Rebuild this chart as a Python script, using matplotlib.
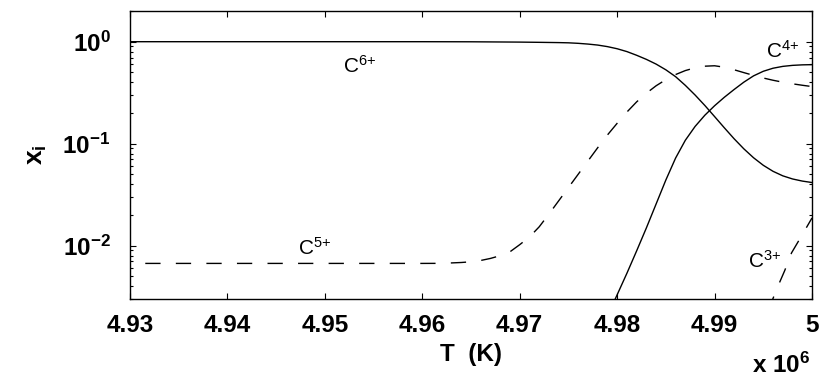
import matplotlib
matplotlib.use("Agg")
import matplotlib.pyplot as plt
from matplotlib.ticker import FixedLocator, LogLocator, NullFormatter

plt.rcParams['font.family'] = ['Liberation Sans', 'DejaVu Sans']
plt.rcParams['mathtext.fontset'] = 'custom'
plt.rcParams['mathtext.rm'] = 'Liberation Sans'
plt.rcParams['mathtext.it'] = 'Liberation Sans:italic'
plt.rcParams['mathtext.bf'] = 'Liberation Sans:bold'

# ---------------- data (T in K, ion fractions) ----------------
T_c6 = [4.930e6, 4.940e6, 4.950e6, 4.960e6, 4.965e6, 4.970e6, 4.972e6, 4.974e6,
        4.975e6, 4.976e6, 4.977e6, 4.978e6, 4.979e6, 4.980e6, 4.981e6, 4.982e6,
        4.983e6, 4.984e6, 4.985e6, 4.986e6, 4.987e6, 4.988e6, 4.989e6, 4.990e6,
        4.991e6, 4.992e6, 4.993e6, 4.994e6, 4.995e6, 4.996e6, 4.997e6, 4.998e6,
        4.999e6, 5.000e6]
x_c6 = [1.0, 1.0, 1.0, 1.0, 0.998, 0.991, 0.986, 0.980,
        0.975, 0.964, 0.948, 0.927, 0.895, 0.853, 0.800, 0.736,
        0.671, 0.603, 0.530, 0.454, 0.373, 0.300, 0.237, 0.1845,
        0.1432, 0.1119, 0.0891, 0.0728, 0.0614, 0.0536, 0.0484, 0.0451,
        0.0430, 0.0416]

T_c5 = [4.930e6, 4.940e6, 4.950e6, 4.960e6, 4.962e6, 4.964e6, 4.965e6, 4.966e6,
        4.967e6, 4.968e6, 4.969e6, 4.970e6, 4.971e6, 4.972e6, 4.973e6, 4.974e6,
        4.975e6, 4.976e6, 4.977e6, 4.978e6, 4.979e6, 4.980e6, 4.981e6, 4.982e6,
        4.983e6, 4.984e6, 4.985e6, 4.986e6, 4.987e6, 4.988e6, 4.989e6, 4.990e6,
        4.991e6, 4.992e6, 4.993e6, 4.994e6, 4.995e6, 4.996e6, 4.997e6, 4.998e6,
        4.999e6, 5.000e6]
x_c5 = [0.0067, 0.0067, 0.0067, 0.0067, 0.00671, 0.00684, 0.00695, 0.00716,
        0.00750, 0.00798, 0.00871, 0.01023, 0.01216, 0.01531, 0.02042, 0.02754,
        0.03715, 0.05012, 0.06761, 0.09120, 0.1216, 0.1585, 0.2042, 0.2570,
        0.3126, 0.3698, 0.4246, 0.4764, 0.5212, 0.5546, 0.5754, 0.5808,
        0.5623, 0.5309, 0.4977, 0.4677, 0.4406, 0.4188, 0.4009, 0.3864,
        0.3741, 0.3631]

T_c4 = [4.979e6, 4.980e6, 4.981e6, 4.982e6, 4.983e6, 4.984e6, 4.985e6, 4.986e6,
        4.987e6, 4.988e6, 4.989e6, 4.990e6, 4.991e6, 4.992e6, 4.993e6, 4.994e6,
        4.995e6, 4.996e6, 4.997e6, 4.998e6, 4.999e6, 5.000e6]
x_c4 = [0.00204, 0.00330, 0.00536, 0.00889, 0.01493, 0.02564, 0.04406, 0.0723,
        0.1081, 0.1476, 0.1901, 0.2355, 0.2851, 0.3396, 0.4009, 0.4624,
        0.5129, 0.5495, 0.5728, 0.5861, 0.5929, 0.5957]

T_c3 = [4.9955e6, 4.9964e6, 4.9972e6, 4.9979e6, 4.9990e6, 5.000e6]
x_c3 = [0.0023, 0.0038, 0.0057, 0.0085, 0.0128, 0.0187]

xticks = [4.93e6, 4.94e6, 4.95e6, 4.96e6, 4.97e6, 4.98e6, 4.99e6, 5.00e6]
xtick_labels = ['4.93', '4.94', '4.95', '4.96', '4.97', '4.98', '4.99', '5']
yticks = [1.0, 0.1, 0.01]
ytick_labels = [r'$\mathbf{10^{0}}$', r'$\mathbf{10^{-1}}$', r'$\mathbf{10^{-2}}$']

labels = [r'C$^{\text{6+}}$', r'C$^{\text{5+}}$', r'C$^{\text{4+}}$', r'C$^{\text{3+}}$']
label_pos = [(4.95186e6, 0.493), (4.94724e6, 0.0081), (4.99528e6, 0.692), (4.99343e6, 0.00604)]

# ---------------- figure ----------------
fig = plt.figure(figsize=(8.30, 3.79), dpi=100)
ax = fig.add_axes([0.15663, 0.21108, 0.82169, 0.75989])

ax.plot(T_c6, x_c6, color='black', lw=1.0, linestyle='-')
ax.plot(T_c5, x_c5, color='black', lw=1.0, linestyle=(11, (11, 11)))
ax.plot(T_c4, x_c4, color='black', lw=1.0, linestyle='-')
ax.plot(T_c3, x_c3, color='black', lw=1.0, linestyle=(0, (11, 11)))

ax.set_yscale('log')
ax.set_xlim(4.93e6, 5.0e6)
ax.set_ylim(0.0030, 2.0)

ax.xaxis.set_major_locator(FixedLocator(xticks))
ax.set_xticklabels(xtick_labels, fontsize=17.5, fontweight='bold')
ax.yaxis.set_major_locator(FixedLocator(yticks))
ax.set_yticklabels(ytick_labels, fontsize=17.5)
ax.yaxis.set_minor_locator(LogLocator(base=10, subs=range(2, 10), numticks=20))
ax.yaxis.set_minor_formatter(NullFormatter())

ax.tick_params(axis='both', which='both', direction='in', top=True, right=True, width=0.8)
ax.tick_params(axis='x', which='major', length=4.5, pad=11)
ax.tick_params(axis='y', which='major', length=4.5, pad=14)
ax.tick_params(axis='y', which='minor', length=2.5)
for s in ax.spines.values():
    s.set_linewidth(1.0)

for txt, (tx, ty) in zip(labels, label_pos):
    ax.text(tx, ty, txt, fontsize=15, ha='left', va='baseline')

ax.set_xlabel('T  (K)', fontsize=17.5, fontweight='bold', labelpad=4)
ax.set_ylabel(r'$\mathbf{x_i}$', fontsize=19, labelpad=10)

fig.text(810 / 830, 1 - 373 / 379, r'$\mathbf{x\ 10^{6}}$', fontsize=17.5,
         ha='right', va='baseline')

fig.savefig('out.png', dpi=100)
